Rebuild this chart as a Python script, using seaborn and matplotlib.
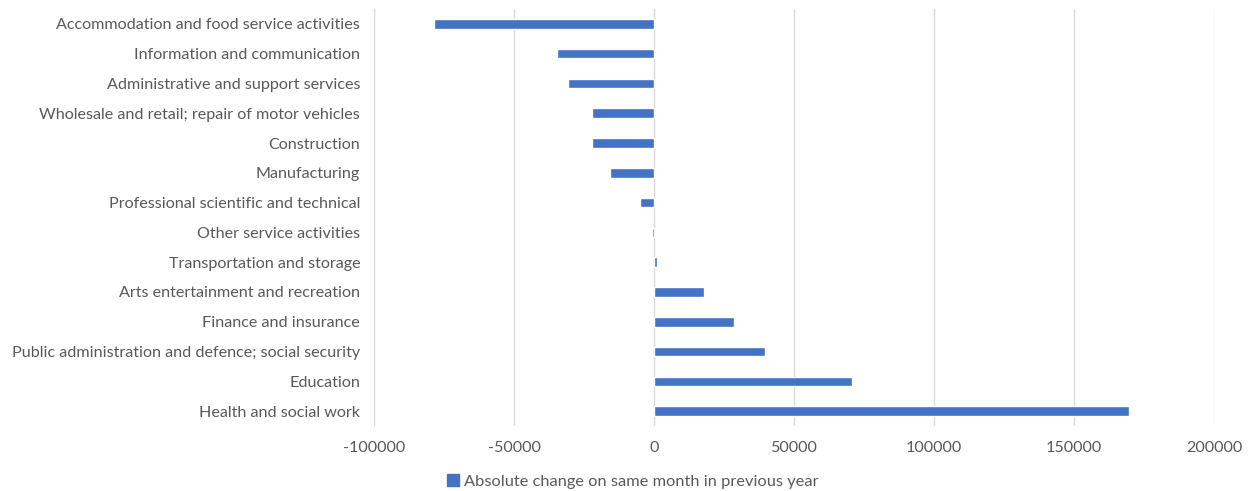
import numpy as np
import matplotlib.pyplot as plt
import seaborn as sns
import pandas as pd
from matplotlib.patches import Patch

industries = [
    "Accommodation and food service activities",
    "Information and communication",
    "Administrative and support services",
    "Wholesale and retail; repair of motor vehicles",
    "Construction",
    "Manufacturing",
    "Professional scientific and technical",
    "Other service activities",
    "Transportation and storage",
    "Arts entertainment and recreation",
    "Finance and insurance",
    "Public administration and defence; social security",
    "Education",
    "Health and social work",
]
change = [-78600, -34700, -30700, -22200, -22000, -15600, -5100,
          -800, 1000, 17700, 28600, 39700, 70700, 169800]
series_name = "Absolute change on same month in previous year"

df = pd.DataFrame({"Industry": industries, "Change": change})

sns.set_style("white")
plt.rcParams["font.family"] = ["Lato", "DejaVu Sans"]

fig = plt.figure(figsize=(12.48, 4.91), dpi=100)
ax = fig.add_axes([0.2997, 0.1324, 0.673, 0.8493])

bar_color = "#4472C4"
sns.barplot(data=df, x="Change", y="Industry", orient="h", color=bar_color,
            width=0.32, saturation=1, ax=ax, zorder=3)

ax.set_xlim(-100000, 200000)
ax.set_xticks(np.arange(-100000, 200001, 50000))
ax.set_xticklabels([str(v) for v in np.arange(-100000, 200001, 50000)])
ax.grid(axis="x", color="#d9d9d9", linewidth=1, zorder=0)
ax.set_axisbelow(True)
for s in ax.spines.values():
    s.set_visible(False)
ax.set_xlabel("")
ax.set_ylabel("")
ax.tick_params(axis="both", length=0, colors="#595959", labelsize=11.6)
ax.tick_params(axis="y", pad=10)
ax.tick_params(axis="x", pad=11)

fig.legend(handles=[Patch(color=bar_color, label=series_name)],
           loc="lower center", bbox_to_anchor=(0.507, -0.025), frameon=False,
           handlelength=0.7, handleheight=0.7, handletextpad=0.3,
           labelcolor="#595959", fontsize=11.8)

fig.savefig("out.png", dpi=100)
